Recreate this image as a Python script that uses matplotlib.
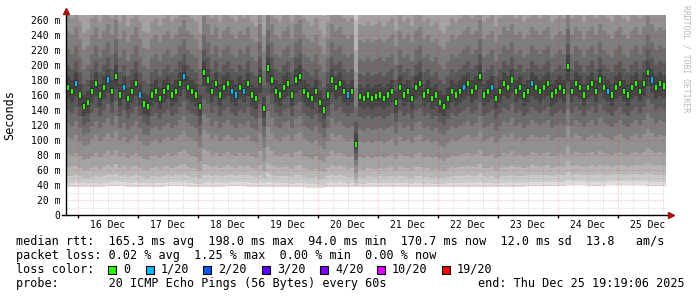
import numpy as np
import matplotlib
matplotlib.use('Agg')
import matplotlib.pyplot as plt
import matplotlib.dates as mdates
from matplotlib.patches import Rectangle
from datetime import datetime, timedelta

plt.rcParams['font.family'] = 'DejaVu Sans Mono'

# time range of the graph
start = datetime(2025, 12, 15, 19, 19, 6)
end = datetime(2025, 12, 25, 19, 19, 6)

# median rtt (ms), one value per column
median_ms = [
    170, 165, 175, 160, 145, 150, 165, 175, 160, 170,
    180, 165, 185, 160, 170, 155, 165, 175, 160, 148,
    145, 160, 165, 155, 165, 170, 160, 165, 175, 185,
    170, 165, 160, 145, 190, 180, 165, 175, 160, 170,
    175, 165, 160, 170, 165, 175, 160, 155, 180, 142,
    196, 180, 165, 160, 170, 175, 160, 180, 185, 165,
    160, 155, 165, 150, 140, 160, 180, 170, 175, 165,
    160, 165, 94, 158, 155, 160, 155, 158, 160, 155,
    160, 165, 150, 170, 160, 165, 155, 170, 175, 160,
    165, 155, 160, 150, 145, 155, 165, 160, 165, 170,
    175, 165, 170, 185, 160, 165, 170, 155, 165, 175,
    170, 180, 165, 170, 160, 165, 175, 170, 165, 170,
    175, 160, 165, 170, 165, 198, 165, 175, 170, 160,
    170, 175, 165, 180, 170, 165, 160, 170, 175, 165,
    160, 170, 175, 165, 175, 190, 180, 170, 175, 172,
]

# lowest ping (ms), one value per 5 columns
min_rtt = [38, 37, 39, 38, 38, 39, 37, 38, 39, 38,
           38, 37, 36, 38, 37, 38, 38, 37, 37, 38,
           38, 37, 38, 39, 39, 40, 39, 40, 40, 39]

# typical spread of the 20 pings around the median
lower_frac = [0.0, 0.04, 0.11, 0.20, 0.33, 0.50, 0.64, 0.77, 0.88, 0.96]
upper_offset = [5, 15, 30, 50, 75, 97, 125, 165, 215, 285]

# columns with packet loss (1/20)
loss_cols = [2, 10, 14, 18, 29, 41, 42, 44, 70, 99, 106, 116, 135, 146]

loss_labels = ['0', '1/20', '2/20', '3/20', '4/20', '10/20', '19/20']
loss_colors = ['#26ff00', '#00b8ff', '#0059ff', '#5e00ff', '#7e00ff', '#dd00ff', '#ff0000']

day_labels = ['16 Dec', '17 Dec', '18 Dec', '19 Dec', '20 Dec',
              '21 Dec', '22 Dec', '23 Dec', '24 Dec', '25 Dec']

W, H = 697, 297
fig = plt.figure(figsize=(W / 100, H / 100), dpi=100)
fig.patch.set_facecolor('white')
ax = fig.add_axes([66 / W, 82 / H, 600 / W, 200 / H])

med = np.array(median_ms, dtype=float)
n = len(med)
mins = np.repeat(min_rtt, n // len(min_rtt)).astype(float)
t0, t1 = mdates.date2num(start), mdates.date2num(end)
edges = np.linspace(t0, t1, n + 1)
centers = (edges[:-1] + edges[1:]) / 2
step = edges[1] - edges[0]

pings = [mins + f * (med - mins) for f in lower_frac] + [med + o for o in upper_offset]

# smoke, outer pair first
for ib in range(1, 11):
    lo = pings[ib - 1]
    hi = pings[20 - ib]
    g = int(190 / 10 * (10 - ib)) + 50
    ax.fill_between(edges, np.append(lo, lo[-1]), np.append(hi, hi[-1]), step='post',
                    color='#%02x%02x%02x' % (g, g, g), linewidth=0, zorder=1)

# grid
mgrid = (1, 0, 0, 0.28)
grid = (0.55, 0.55, 0.55, 0.35)
for v in range(10, 267, 10):
    ax.axhline(v, color=mgrid if v % 20 == 0 else grid, lw=0.75, dashes=(1, 1.5), zorder=2)
t = datetime(2025, 12, 16, 0, 0)
midnights = []
while t < end:
    if t.hour == 0:
        midnights.append(mdates.date2num(t))
    ax.axvline(mdates.date2num(t), color=mgrid if t.hour == 0 else grid,
               lw=0.75, dashes=(1, 1.5), zorder=2)
    t += timedelta(hours=6)

# median marks
cols = [loss_colors[1] if i in loss_cols else loss_colors[0] for i in range(n)]
ax.bar(centers, 7, bottom=med - 3.5, width=step * 0.38, color=cols, linewidth=0, zorder=4)

ax.set_xlim(t0, t1)
ax.set_ylim(0, 200 / 0.75)
for s in ax.spines.values():
    s.set_visible(False)

yt = list(range(0, 261, 20))
ax.set_yticks(yt)
ax.set_yticklabels(['0' if v == 0 else '%d m' % v for v in yt])
ax.tick_params(axis='y', length=0, pad=4.3, labelsize=7)

noons = [mdates.date2num(datetime(2025, 12, 16 + i, 12)) for i in range(len(day_labels))]
ax.set_xticks(noons)
ax.set_xticklabels(day_labels)
ax.set_xticks(midnights, minor=True)
ax.tick_params(axis='x', which='major', length=0, pad=3.5, labelsize=7)
ax.tick_params(axis='x', which='minor', length=2, width=1, color='black')

# axes with arrows
arrow_c = '#a01010'
ax.plot([0, 0], [0, 1.015], color='black', lw=1, transform=ax.transAxes, clip_on=False, zorder=5)
ax.plot([-4 / 600, 1.004], [0, 0], color='black', lw=1, transform=ax.transAxes, clip_on=False, zorder=5)
ax.plot(0, 1.02, marker='^', ms=5, color=arrow_c, transform=ax.transAxes, clip_on=False, zorder=6)
ax.plot(1.0075, 0, marker='>', ms=5, color=arrow_c, transform=ax.transAxes, clip_on=False, zorder=6)

fig.text(10 / W, 1 - 115 / H, 'Seconds', rotation=90, ha='center', va='center', fontsize=8.5)
fig.text(686 / W, 1 - 5 / H, 'RRDTOOL / TOBI OETIKER', rotation=270, ha='center', va='top',
         fontsize=5.8, color='#b8b8b8')

fs = 8.5
fig.text(16 / W, 1 - 241.5 / H,
         'median rtt:  165.3 ms avg  198.0 ms max  94.0 ms min  170.7 ms now  12.0 ms sd  13.8   am/s',
         va='center', fontsize=fs)
fig.text(16 / W, 1 - 255.5 / H,
         'packet loss: 0.02 % avg  1.25 % max  0.00 % min  0.00 % now',
         va='center', fontsize=fs)
fig.text(16 / W, 1 - 269.5 / H, 'loss color:', va='center', fontsize=fs)
box_x = [108, 146, 203, 262, 320, 377, 442]
for bx, lab, c in zip(box_x, loss_labels, loss_colors):
    fig.add_artist(Rectangle((bx / W, 1 - 273.5 / H), 8 / W, 8 / H, transform=fig.transFigure,
                             facecolor=c, edgecolor='black', lw=0.8))
    fig.text((bx + 15) / W, 1 - 269.5 / H, lab, va='center', fontsize=fs)
fig.text(16 / W, 1 - 283.5 / H, 'probe:       20 ICMP Echo Pings (56 Bytes) every 60s',
         va='center', fontsize=fs)
fig.text(478 / W, 1 - 283.5 / H, 'end: Thu Dec 25 19:19:06 2025', va='center', fontsize=fs)

fig.savefig('out.png', dpi=100)
